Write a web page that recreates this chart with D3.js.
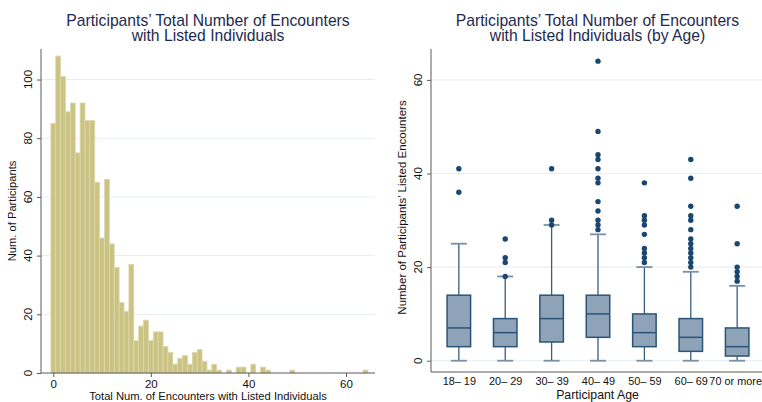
<!DOCTYPE html>
<html>
<head>
<meta charset="utf-8">
<script src="https://cdn.jsdelivr.net/npm/d3@7"></script>
<style>
  html, body { margin: 0; padding: 0; background: #ffffff; }
  svg { display: block; font-family: "Liberation Sans", Arial, Helvetica, sans-serif; }
</style>
</head>
<body>
<svg id="chart" width="762" height="402"></svg>
<script>
// ---------- Data: left histogram ----------
const encounterValues = [0,1,2,3,4,5,6,7,8,9,10,11,12,13,14,15,16,17,18,19,20,21,22,23,24,25,26,27,28,29,30,31,32,33,34,35,36,37,38,39,40,41,42,43,44,45,46,47,48,49,50,51,52,53,54,55,56,57,58,59,60,61,62,63,64];
const participantCounts = [85,108,101,89,92,75,92,86,86,65,46,66,44,36,24,21,37,11,16,18,11,14,14,9,7,3,5,6,3,7,8,4,1,3,1,0,1,0,2,2,0,3,0,2,1,0,0,0,0,1,0,0,0,0,0,0,0,0,0,0,0,0,0,0,1];
const histXTicks = [0, 20, 40, 60];
const histYTicks = [0, 20, 40, 60, 80, 100];

// ---------- Data: right box plots ----------
const ageGroups = ["18– 19", "20– 29", "30– 39", "40– 49", "50– 59", "60– 69", "70 or more"];
const boxLow = [0, 0, 0, 0, 0, 0, 0];
const boxQ1 = [3, 3, 4, 5, 3, 2, 1];
const boxMedian = [7, 6, 9, 10, 6, 5, 3];
const boxQ3 = [14, 9, 14, 14, 10, 9, 7];
const boxHigh = [25, 18, 29, 27, 20, 19, 16];
const boxOutliers = [
  [41, 36],
  [26, 22, 21, 18],
  [41, 30, 29],
  [64, 49, 44, 43, 41, 39, 38, 34, 32, 30, 29, 28],
  [38, 31, 30, 29, 27, 24, 23, 22, 21],
  [43, 39, 33, 31, 30, 28, 26, 25, 24, 23, 22, 21, 20],
  [33, 25, 20, 19, 18, 17]
];
const boxYTicks = [0, 20, 40, 60];

// ---------- Styles ----------
const titleColor = "#1e2a4f";
const gridColor = "#e6eef0";
const axisColor = "#5a5a5a";
const barFill = "#cbc383";
const barStroke = "#ddd8ab";
const navy = "#1a476f";
const boxFill = "#8ea3b8";

const svg = d3.select("#chart");

// =============== LEFT PANEL ===============
const L = { left: 41, right: 375, top: 49, bottom: 373 };
const xH = d3.scaleLinear().domain([-2.52, 65.95]).range([L.left, L.right]);
const yH = d3.scaleLinear().domain([0, 110.4]).range([L.bottom, L.top]);

const gL = svg.append("g");

gL.append("g").selectAll("line").data(histYTicks.filter(d => d > 0)).join("line")
  .attr("x1", L.left).attr("x2", L.right)
  .attr("y1", d => yH(d)).attr("y2", d => yH(d))
  .attr("stroke", gridColor).attr("stroke-width", 1);

const histData = encounterValues.map((v, i) => ({ v, c: participantCounts[i] })).filter(d => d.c > 0);
gL.append("g").selectAll("rect").data(histData).join("rect")
  .attr("x", d => xH(d.v - 0.5))
  .attr("width", d => xH(d.v + 0.5) - xH(d.v - 0.5))
  .attr("y", d => yH(d.c))
  .attr("height", d => yH(0) - yH(d.c))
  .attr("fill", barFill)
  .attr("stroke", barStroke)
  .attr("stroke-width", 0.8);

const yAxisL = gL.append("g").attr("transform", `translate(${L.left},0)`)
  .call(d3.axisLeft(yH).tickValues(histYTicks).tickSize(4).tickFormat(d3.format("d")));
yAxisL.select(".domain").attr("d", `M0,${L.top}V${L.bottom}`);
yAxisL.selectAll("text").remove();
yAxisL.selectAll("line, path").attr("stroke", axisColor);
gL.append("g").selectAll("text").data(histYTicks).join("text")
  .attr("transform", d => `translate(32,${yH(d)}) rotate(-90)`)
  .attr("text-anchor", "middle")
  .attr("font-size", 11.5)
  .attr("fill", "#111")
  .text(d => d);

const xAxisL = gL.append("g").attr("transform", `translate(0,${L.bottom})`)
  .call(d3.axisBottom(xH).tickValues(histXTicks).tickSize(4).tickFormat(d3.format("d")));
xAxisL.select(".domain").attr("d", `M${L.left},0H${L.right}`);
xAxisL.selectAll("line, path").attr("stroke", axisColor);
xAxisL.selectAll("text").attr("font-size", 11.5).attr("fill", "#111")
  .attr("font-family", "Liberation Sans, Arial, sans-serif").attr("dy", null).attr("y", 15);

gL.append("text")
  .attr("transform", `translate(16,${(L.top + L.bottom) / 2}) rotate(-90)`)
  .attr("text-anchor", "middle").attr("font-size", 11.2).attr("fill", "#111")
  .text("Num. of Participants");
gL.append("text")
  .attr("x", 208).attr("y", 399.5)
  .attr("text-anchor", "middle").attr("font-size", 11.2).attr("fill", "#111")
  .text("Total Num. of Encounters with Listed Individuals");

gL.append("text").attr("x", 208).attr("y", 25.5).attr("text-anchor", "middle")
  .attr("font-size", 15.7).attr("fill", titleColor).text("Participants’ Total Number of Encounters");
gL.append("text").attr("x", 208).attr("y", 40.5).attr("text-anchor", "middle")
  .attr("font-size", 15.7).attr("fill", titleColor).text("with Listed Individuals");

// =============== RIGHT PANEL ===============
const R = { left: 431, right: 765, top: 49, bottom: 372 };
const xB = d3.scalePoint().domain(ageGroups).range([R.left, R.right]).padding(0.6);
const yB = d3.scaleLinear().domain([-2.41, 66.6]).range([R.bottom, R.top]);
const gR = svg.append("g");

gR.append("g").selectAll("line").data(boxYTicks).join("line")
  .attr("x1", R.left).attr("x2", 762)
  .attr("y1", d => yB(d)).attr("y2", d => yB(d))
  .attr("stroke", gridColor).attr("stroke-width", 1);

const boxW = 23.5, capW = 16;
const boxes = ageGroups.map((g, i) => ({
  g, low: boxLow[i], q1: boxQ1[i], med: boxMedian[i], q3: boxQ3[i], high: boxHigh[i], out: boxOutliers[i]
}));

const bg = gR.append("g").selectAll("g").data(boxes).join("g")
  .attr("transform", d => `translate(${xB(d.g)},0)`);

bg.append("line").attr("x1", 0).attr("x2", 0)
  .attr("y1", d => yB(d.q3)).attr("y2", d => yB(d.high))
  .attr("stroke", "#3a5d80").attr("stroke-width", 1.3);
bg.append("line").attr("x1", 0).attr("x2", 0)
  .attr("y1", d => yB(d.q1)).attr("y2", d => yB(d.low))
  .attr("stroke", "#3a5d80").attr("stroke-width", 1.3);
bg.append("line").attr("x1", -capW / 2).attr("x2", capW / 2)
  .attr("y1", d => yB(d.high)).attr("y2", d => yB(d.high))
  .attr("stroke", "#7890a8").attr("stroke-width", 1.8);
bg.append("line").attr("x1", -capW / 2).attr("x2", capW / 2)
  .attr("y1", d => yB(d.low)).attr("y2", d => yB(d.low))
  .attr("stroke", "#7890a8").attr("stroke-width", 1.8);
bg.append("rect").attr("x", -boxW / 2).attr("width", boxW)
  .attr("y", d => yB(d.q3)).attr("height", d => yB(d.q1) - yB(d.q3))
  .attr("fill", boxFill).attr("stroke", "#2a5478").attr("stroke-width", 1.5);
bg.append("line").attr("x1", -boxW / 2).attr("x2", boxW / 2)
  .attr("y1", d => yB(d.med)).attr("y2", d => yB(d.med))
  .attr("stroke", "#2a5478").attr("stroke-width", 1.5);
bg.selectAll("circle").data(d => d.out).join("circle")
  .attr("cx", 0).attr("cy", d => yB(d)).attr("r", 2.7)
  .attr("fill", navy);

const yAxisR = gR.append("g").attr("transform", `translate(${R.left},0)`)
  .call(d3.axisLeft(yB).tickValues(boxYTicks).tickSize(4));
yAxisR.select(".domain").attr("d", `M0,${R.top}V${R.bottom}`);
yAxisR.selectAll("text").remove();
yAxisR.selectAll("line, path").attr("stroke", axisColor);
gR.append("g").selectAll("text").data(boxYTicks).join("text")
  .attr("transform", d => `translate(422,${yB(d)}) rotate(-90)`)
  .attr("text-anchor", "middle").attr("font-size", 11.5).attr("fill", "#111")
  .text(d => d);

const xAxisR = gR.append("g").attr("transform", `translate(0,${R.bottom})`)
  .call(d3.axisBottom(xB).tickSize(0));
xAxisR.select(".domain").attr("d", `M${R.left},0H762`).attr("stroke", axisColor);
xAxisR.selectAll("text").attr("font-size", 10.9).attr("fill", "#111")
  .attr("font-family", "Liberation Sans, Arial, sans-serif").attr("dy", null).attr("y", 13);
// keep the last label inside the picture
xAxisR.selectAll(".tick").filter(d => d === "70 or more").select("text").attr("x", -2);

gR.append("text")
  .attr("transform", `translate(406,${(R.top + R.bottom) / 2 - 3}) rotate(-90)`)
  .attr("text-anchor", "middle").attr("font-size", 11.5).attr("fill", "#111")
  .text("Number of Participants’ Listed Encounters");
gR.append("text").attr("x", 597.5).attr("y", 398.5).attr("text-anchor", "middle")
  .attr("font-size", 12.3).attr("fill", "#111").text("Participant Age");

gR.append("text").attr("x", 597.5).attr("y", 25.5).attr("text-anchor", "middle")
  .attr("font-size", 15.7).attr("fill", titleColor).text("Participants’ Total Number of Encounters");
gR.append("text").attr("x", 597.5).attr("y", 40.5).attr("text-anchor", "middle")
  .attr("font-size", 15.7).attr("fill", titleColor).text("with Listed Individuals (by Age)");
</script>
</body>
</html>
